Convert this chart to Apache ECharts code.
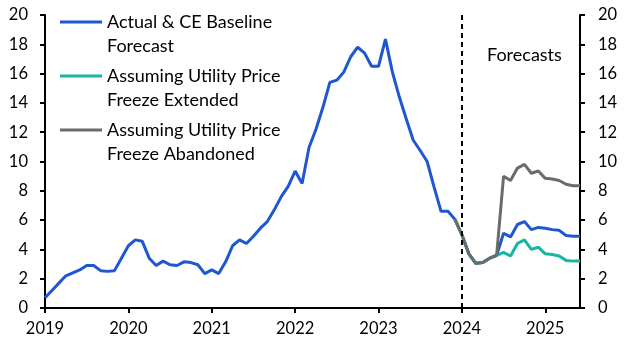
<!DOCTYPE html>
<html>
<head>
<meta charset="utf-8">
<script src="https://cdn.jsdelivr.net/npm/echarts@6/dist/echarts.min.js"></script>
<style>html,body{margin:0;padding:0;background:#fff}#c{width:634px;height:364px}</style>
</head>
<body>
<div id="c"></div>
<script>
// Monthly categories Jan 2019 .. Jun 2025
var startYear = 2019, monthCount = 78;
var months = [];
for (var i = 0; i < monthCount; i++) {
  var y = startYear + Math.floor(i / 12), m = (i % 12) + 1;
  months.push(y + '-' + (m < 10 ? '0' + m : m));
}
var yearTicks = ['2019','2020','2021','2022','2023','2024','2025'];

// Actual & CE Baseline Forecast (Jan 2019 .. Jun 2025)
var baseline = [
  0.7, 1.2, 1.7, 2.2, 2.4, 2.6, 2.9, 2.9, 2.55, 2.5, 2.55, 3.4,
  4.25, 4.65, 4.55, 3.4, 2.9, 3.2, 2.95, 2.9, 3.15, 3.1, 2.95, 2.35,
  2.6, 2.35, 3.15, 4.25, 4.65, 4.4, 4.9, 5.45, 5.9, 6.7, 7.6, 8.3,
  9.35, 8.5, 10.95, 12.2, 13.7, 15.4, 15.55, 16.1, 17.15, 17.8, 17.4, 16.5,
  16.5, 18.35, 16.1, 14.4, 12.9, 11.45, 10.75, 10.0, 8.25, 6.6, 6.6, 6.05,
  5.0, 3.7, 3.05, 3.1, 3.4, 3.6, 5.1, 4.85, 5.7, 5.9, 5.35, 5.5,
  5.45, 5.35, 5.3, 4.95, 4.9, 4.9
];
// Scenario paths start at Dec 2023 (index 59)
var scenarioStart = '2023-12';
var freezeExtended = [6.05, 5.0, 3.7, 3.05, 3.1, 3.4, 3.6, 3.8, 3.55, 4.4, 4.65, 4.0, 4.15, 3.7, 3.65, 3.55, 3.25, 3.2, 3.2];
var freezeAbandoned = [6.05, 5.0, 3.7, 3.05, 3.1, 3.4, 3.6, 9.0, 8.7, 9.55, 9.8, 9.2, 9.35, 8.85, 8.8, 8.7, 8.45, 8.35, 8.35];
var yTicks = [0, 2, 4, 6, 8, 10, 12, 14, 16, 18, 20];

function pad(arr) {
  var off = months.indexOf(scenarioStart), out = [];
  for (var i = 0; i < off; i++) out.push(null);
  return out.concat(arr);
}

var FONT = 'Lato';
var names = ['Actual & CE Baseline\nForecast', 'Assuming Utility Price\nFreeze Extended', 'Assuming Utility Price\nFreeze Abandoned'];
var colors = ['#1F57D1', '#17B5A3', '#6B6B6B'];

var chart = echarts.init(document.getElementById('c'));
var yAxisCommon = {
  type: 'value', min: yTicks[0], max: yTicks[yTicks.length - 1], interval: 2,
  axisLine: {show: true, lineStyle: {color: '#000', width: 2}},
  axisTick: {show: true, length: 5, lineStyle: {color: '#000', width: 2}},
  splitLine: {show: false},
  axisLabel: {color: '#000', fontFamily: FONT, fontSize: 16.5, margin: 17}
};
chart.setOption({
  animation: false,
  color: colors,
  grid: {left: 45, right: 54, top: 15, bottom: 56, containLabel: false},
  legend: {
    orient: 'vertical', left: 60, top: -14, padding: 0, itemGap: -18,
    icon: 'rect', itemWidth: 42, itemHeight: 3,
    data: names,
    formatter: function (n) { return '\u00a0\n' + n; },
    textStyle: {fontFamily: FONT, fontSize: 18, color: '#000', lineHeight: 24}
  },
  xAxis: {
    type: 'category', data: months, boundaryGap: false,
    axisLine: {lineStyle: {color: '#000', width: 2}},
    axisTick: {show: true, length: 5, lineStyle: {color: '#000', width: 2},
      interval: function (idx) { return idx % 12 === 0; }},
    axisLabel: {color: '#000', fontFamily: FONT, fontSize: 16.5, margin: 12,
      interval: function (idx) { return idx % 12 === 0; },
      formatter: function (v) { var yr = v.slice(0, 4); return yearTicks.indexOf(yr) >= 0 ? yr : ''; }}
  },
  yAxis: [
    Object.assign({position: 'left'}, yAxisCommon),
    Object.assign({position: 'right'}, yAxisCommon, {axisLabel: {color: '#000', fontFamily: FONT, fontSize: 16.5, margin: 18}})
  ],
  graphic: [{
    type: 'text', left: 487, top: 46,
    style: {text: 'Forecasts', fontFamily: FONT, fontSize: 18, fill: '#000'}
  }],
  series: [
    {name: names[0], type: 'line', data: baseline, symbol: 'none', lineStyle: {width: 3, color: colors[0]},
      markLine: {silent: true, symbol: 'none', label: {show: false},
        lineStyle: {color: '#000', width: 2, type: [5, 4]}, data: [{xAxis: '2024-01'}]}},
    {name: names[1], type: 'line', data: pad(freezeExtended), symbol: 'none', lineStyle: {width: 3, color: colors[1]}},
    {name: names[2], type: 'line', data: pad(freezeAbandoned), symbol: 'none', lineStyle: {width: 3, color: colors[2]}}
  ]
});
</script>
</body>
</html>
